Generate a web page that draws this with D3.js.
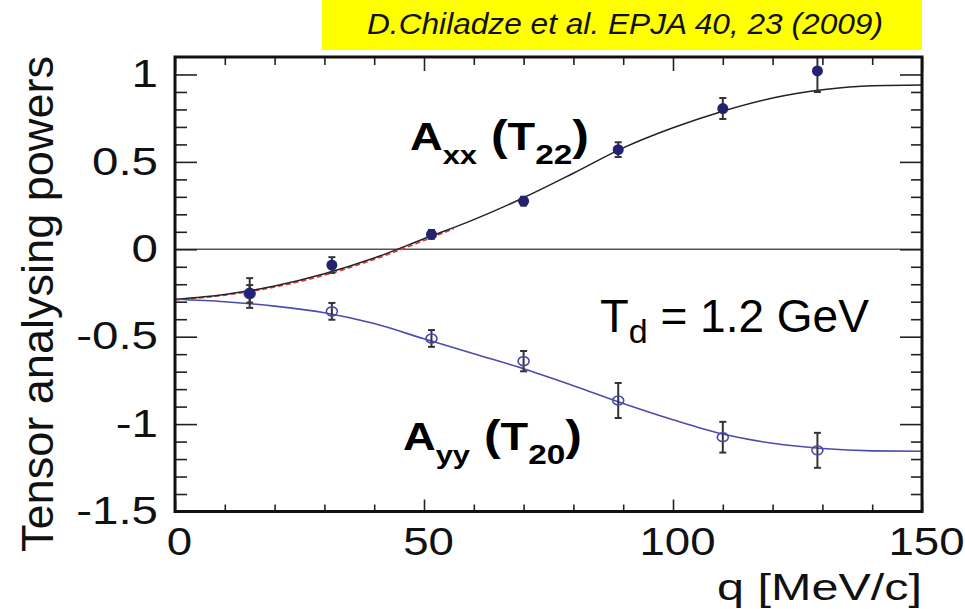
<!DOCTYPE html>
<html>
<head>
<meta charset="utf-8">
<script src="https://cdn.jsdelivr.net/npm/d3@7"></script>
<style>
  html, body { margin: 0; padding: 0; background: #fff; }
  svg { display: block; }
  text { font-family: "Liberation Sans", Arial, Helvetica, sans-serif; }
</style>
</head>
<body>
<svg id="chart" width="965" height="609"></svg>
<script>
// Measured momentum transfer points, MeV/c
const qData = [15, 31.5, 51.5, 70, 89, 110, 129];
// A_xx (T22) measurements and uncertainties
const axxValues = [-0.25, -0.09, 0.085, 0.275, 0.57, 0.805, 1.02];
const axxErrors = [0.085, 0.045, 0.025, 0.025, 0.042, 0.06, 0.12];
// A_yy (T20) measurements and uncertainties
const ayyValues = [-0.255, -0.355, -0.51, -0.64, -0.865, -1.075, -1.15];
const ayyErrors = [0.05, 0.048, 0.048, 0.058, 0.1, 0.088, 0.1];

// Model curves sampled along q
const qCurve = [0, 10, 20, 30, 40, 50, 60, 70, 80, 90, 100, 110, 120, 130, 140, 150];
const axxCurve = [-0.286, -0.258, -0.21, -0.14, -0.05, 0.06, 0.17, 0.295, 0.435, 0.58, 0.695, 0.79, 0.865, 0.912, 0.936, 0.94];
const ayyCurve = [-0.286, -0.30, -0.325, -0.363, -0.425, -0.512, -0.598, -0.683, -0.78, -0.882, -0.975, -1.057, -1.11, -1.14, -1.153, -1.155];
// Alternative calculation (low-q part)
const qAlt = [0, 10, 20, 30, 40, 50, 56];
const altCurve = [-0.29, -0.262, -0.216, -0.148, -0.058, 0.05, 0.118];

// Axis ticks
const xMajorTicks = [0, 50, 100, 150];
const xTickLabels = ["0", "50", "100", "150"];
const yMajorTicks = [-1.5, -1, -0.5, 0, 0.5, 1];
const yTickLabels = ["-1.5", "-1", "-0.5", "0", "0.5", "1"];

const svg = d3.select("#chart");
const plotLeft = 175, plotRight = 922, plotTop = 57, plotBottom = 511.5;

const x = d3.scaleLinear().domain([0, 150]).range([plotLeft, plotRight]);
const y = d3.scaleLinear().domain([-1.5, 1.1]).range([plotBottom, plotTop]);

const font = '"Liberation Sans", Arial, Helvetica, sans-serif';

// Citation banner
svg.append("rect")
  .attr("x", 322).attr("y", 0).attr("width", 600).attr("height", 50)
  .attr("fill", "#ffff00");
svg.append("text")
  .attr("x", 367).attr("y", 34)
  .attr("font-size", 29).attr("font-style", "italic")
  .attr("textLength", 516).attr("lengthAdjust", "spacingAndGlyphs")
  .attr("fill", "#111")
  .text("D.Chiladze et al. EPJA 40, 23 (2009)");

// Clip region for the plotting area
svg.append("clipPath").attr("id", "plotClip")
  .append("rect").attr("x", plotLeft).attr("y", plotTop)
  .attr("width", plotRight - plotLeft).attr("height", plotBottom - plotTop);

const plot = svg.append("g").attr("clip-path", "url(#plotClip)");

// Zero reference line
plot.append("line")
  .attr("x1", plotLeft).attr("x2", plotRight)
  .attr("y1", y(0)).attr("y2", y(0))
  .attr("stroke", "#555").attr("stroke-width", 1.5);

const line = d3.line().x(d => x(d[0])).y(d => y(d[1])).curve(d3.curveMonotoneX);

plot.append("path")
  .datum(qAlt.map((q, i) => [q, altCurve[i]]))
  .attr("d", line).attr("fill", "none")
  .attr("stroke", "#e03a3a").attr("stroke-width", 1.6)
  .attr("stroke-dasharray", "5,3");

plot.append("path")
  .datum(qCurve.map((q, i) => [q, axxCurve[i]]))
  .attr("d", line).attr("fill", "none")
  .attr("stroke", "#222").attr("stroke-width", 1.5);

plot.append("path")
  .datum(qCurve.map((q, i) => [q, ayyCurve[i]]))
  .attr("d", line).attr("fill", "none")
  .attr("stroke", "#4c4cac").attr("stroke-width", 1.6);

// Error bars with small caps
function errorBars(values, errors) {
  const g = plot.append("g").attr("stroke", "#333").attr("stroke-width", 2);
  qData.forEach((q, i) => {
    const cx = x(q), y1 = y(values[i] - errors[i]), y2 = y(values[i] + errors[i]);
    g.append("line").attr("x1", cx).attr("x2", cx).attr("y1", y1).attr("y2", y2);
    g.append("line").attr("x1", cx - 3.5).attr("x2", cx + 3.5).attr("y1", y1).attr("y2", y1);
    g.append("line").attr("x1", cx - 3.5).attr("x2", cx + 3.5).attr("y1", y2).attr("y2", y2);
  });
}

errorBars(ayyValues, ayyErrors);
plot.append("g").selectAll("ellipse")
  .data(qData.map((q, i) => [q, ayyValues[i]]))
  .join("ellipse")
  .attr("cx", d => x(d[0])).attr("cy", d => y(d[1]))
  .attr("rx", 5.5).attr("ry", 4.5)
  .attr("fill", "none").attr("stroke", "#4a4aa6").attr("stroke-width", 1.6);

errorBars(axxValues, axxErrors);
plot.append("g").selectAll("circle")
  .data(qData.map((q, i) => [q, axxValues[i]]))
  .join("circle")
  .attr("cx", d => x(d[0])).attr("cy", d => y(d[1]))
  .attr("r", 5.5)
  .attr("fill", "#222270");

// Axes: ticks point inward on all four sides
const yMinor = d3.range(-14, 11).map(v => v / 10).filter(v => Math.abs(v * 2 - Math.round(v * 2)) > 1e-6);
const xMinor = d3.range(0, 151, 10).filter(v => v % 50 !== 0);

function styleAxis(g) {
  g.select(".domain").remove();
  g.selectAll(".tick line").attr("stroke", "#222").attr("stroke-width", 1.6);
}

function stretchLabels(g, k) {
  g.selectAll("text")
    .attr("font-family", font).attr("font-size", 38).attr("fill", "#111")
    .each(function () {
      const w = this.getComputedTextLength();
      d3.select(this).attr("textLength", w * k).attr("lengthAdjust", "spacingAndGlyphs");
    });
}

// Left axis
const gLeft = svg.append("g").attr("transform", `translate(${plotLeft},0)`)
  .call(d3.axisLeft(y).tickValues(yMajorTicks).tickSize(-22).tickPadding(17)
    .tickFormat((d, i) => yTickLabels[i]));
styleAxis(gLeft);
stretchLabels(gLeft, 1.25);
svg.append("g").attr("transform", `translate(${plotLeft},0)`)
  .call(d3.axisLeft(y).tickValues(yMinor).tickSize(-12).tickFormat(""))
  .call(styleAxis);

// Right axis
svg.append("g").attr("transform", `translate(${plotRight},0)`)
  .call(d3.axisRight(y).tickValues(yMajorTicks).tickSize(-22).tickFormat(""))
  .call(styleAxis);
svg.append("g").attr("transform", `translate(${plotRight},0)`)
  .call(d3.axisRight(y).tickValues(yMinor).tickSize(-11).tickFormat(""))
  .call(styleAxis);

// Bottom axis
const gBottom = svg.append("g").attr("transform", `translate(0,${plotBottom})`)
  .call(d3.axisBottom(x).tickValues(xMajorTicks).tickSize(-12).tickPadding(17)
    .tickFormat((d, i) => xTickLabels[i]));
styleAxis(gBottom);
gBottom.selectAll("text").attr("dx", 4);
stretchLabels(gBottom, 1.2);
svg.append("g").attr("transform", `translate(0,${plotBottom})`)
  .call(d3.axisBottom(x).tickValues(xMinor).tickSize(-7).tickFormat(""))
  .call(styleAxis);

// Top axis
svg.append("g").attr("transform", `translate(0,${plotTop})`)
  .call(d3.axisTop(x).tickValues(xMajorTicks).tickSize(-14).tickFormat(""))
  .call(styleAxis);
svg.append("g").attr("transform", `translate(0,${plotTop})`)
  .call(d3.axisTop(x).tickValues(xMinor).tickSize(-8).tickFormat(""))
  .call(styleAxis);

// Frame
svg.append("rect")
  .attr("x", plotLeft).attr("y", plotTop)
  .attr("width", plotRight - plotLeft).attr("height", plotBottom - plotTop)
  .attr("fill", "none").attr("stroke", "#111").attr("stroke-width", 3);

// Axis titles
svg.append("text")
  .attr("transform", "translate(53,304) rotate(-90)")
  .attr("text-anchor", "middle")
  .attr("font-size", 45).attr("fill", "#111")
  .attr("textLength", 496).attr("lengthAdjust", "spacingAndGlyphs")
  .text("Tensor analysing powers");

svg.append("text")
  .attr("x", plotRight).attr("y", 600)
  .attr("text-anchor", "end")
  .attr("font-size", 37).attr("fill", "#111")
  .attr("textLength", 205).attr("lengthAdjust", "spacingAndGlyphs")
  .text("q [MeV/c]");

// Series labels with subscripts
function seriesLabel(px, py, main, sub, inner, innerSub) {
  const t = svg.append("g")
    .attr("transform", `translate(${px},${py}) scale(1.19,1)`)
    .append("text")
    .attr("font-weight", "bold").attr("fill", "#000");
  t.append("tspan").attr("font-size", 38).text(main);
  t.append("tspan").attr("font-size", 26).attr("dy", 14).text(sub);
  t.append("tspan").attr("font-size", 42).attr("dy", -14).text(" (");
  t.append("tspan").attr("font-size", 38).text(inner);
  t.append("tspan").attr("font-size", 28).attr("dy", 14).text(innerSub);
  t.append("tspan").attr("font-size", 42).attr("dy", -14).text(")");
}

seriesLabel(410, 150, "A", "xx", "T", "22");
seriesLabel(403, 450, "A", "yy", "T", "20");

// Beam energy
const td = svg.append("text").attr("x", 600).attr("y", 332).attr("fill", "#000");
td.append("tspan").attr("font-size", 47).text("T");
td.append("tspan").attr("font-size", 34).attr("dy", 11).text("d");
td.append("tspan").attr("font-size", 46).attr("dy", -11).text(" = 1.2 GeV");
</script>
</body>
</html>
